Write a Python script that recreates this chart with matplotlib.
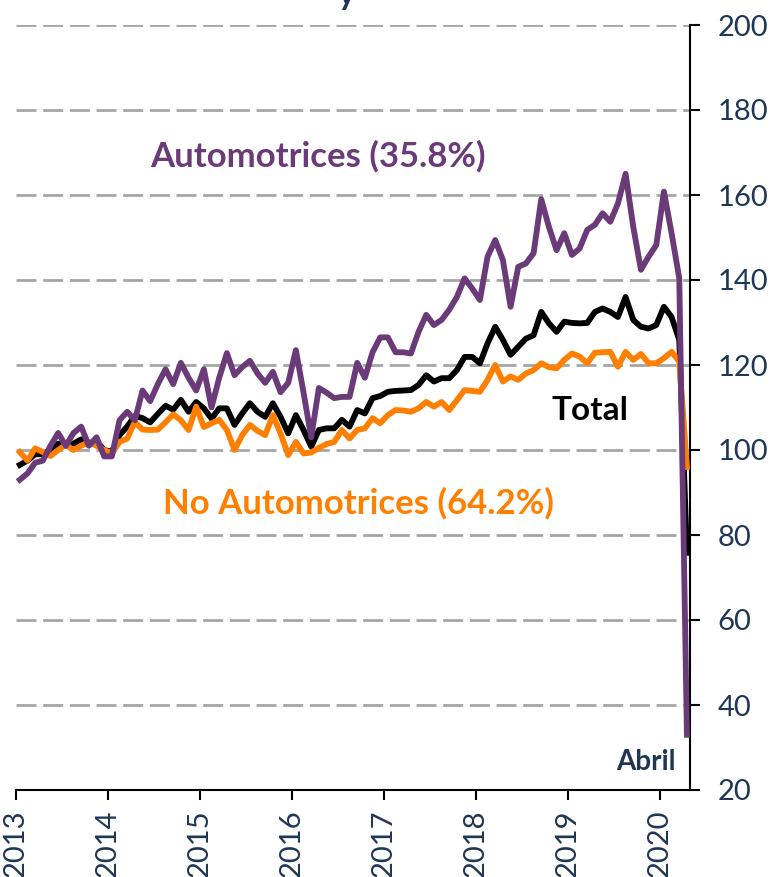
import numpy as np
import matplotlib.pyplot as plt

# Monthly index, Jan 2013 - Apr 2020
automotrices = [93, 94.5, 97, 97.5, 101, 104, 101, 104, 105.5, 101, 103, 98.5,
                98.5, 107, 109, 107, 114, 111.5, 115.5, 119, 115.5, 120.5, 117, 114,
                119, 110, 117, 122.8, 117.6, 119.5, 121, 118, 115.8, 118.4, 113.6, 115.8,
                123.5, 113.5, 103, 114.6, 113.5, 112.2, 112.5, 112.5, 120.5, 117, 123, 126.5,
                126.5, 123, 123, 122.7, 127.8, 131.8, 129.4, 130.6, 133, 136, 140.4, 138,
                135.3, 145.5, 149.4, 144.7, 133.7, 143.1, 143.9, 146.3, 159, 152.5, 147, 151,
                145.9, 147.4, 151.8, 153, 155.7, 153.7, 158, 165, 152.5, 142.4, 145.5, 148.2,
                160.8, 151, 140.4, 33]
total = [96.5, 97.5, 99, 99, 100, 101.5, 101, 101.5, 102.5, 101.5, 102, 100,
         99.6, 103.5, 105.5, 108, 107.5, 106.5, 108.5, 110.4, 109.5, 111.8, 109, 111.3,
         109.8, 107.4, 109.8, 109.8, 105.9, 108.6, 111, 109, 107.8, 111, 107.8, 103.9,
         108.2, 104.7, 100.8, 104.7, 105.1, 105.1, 107.1, 105.5, 109.4, 108.6, 112.2, 112.7,
         113.7, 113.9, 114, 114.1, 115.3, 117.6, 116.1, 116.9, 116.9, 118.8, 121.9, 121.9,
         120.4, 125.1, 129, 125.9, 122.4, 124.3, 126.2, 127, 132.5, 129.8, 127.8, 130.2,
         129.9, 129.8, 129.9, 132.5, 133.3, 132.5, 131.3, 136, 130.6, 129, 128.6, 129.4,
         133.7, 131.3, 125.9, 75.8]
no_automotrices = [99.5, 97.5, 100.4, 99.5, 98.6, 100, 101.2, 100, 101, 101.9, 101, 100,
                   99.2, 101.9, 102.7, 106.6, 104.8, 104.7, 104.8, 106.5, 108.4, 107, 104.7, 110.2,
                   105.4, 106.3, 107.1, 104.7, 100, 103.5, 105.9, 104.5, 103.5, 108.2, 103.9, 98.8,
                   101.9, 99.2, 99.4, 100.5, 101.4, 101.9, 104.7, 102.7, 104.7, 105.1, 107.5, 106.3,
                   108.2, 109.4, 109.3, 109, 109.8, 111.3, 110.2, 111.3, 109.4, 111.7, 114.1, 113.9,
                   113.7, 116.5, 120, 116.1, 117.3, 116.5, 118, 118.8, 120.4, 119.5, 119.2, 121.2,
                   122.7, 122, 120.4, 122.9, 123, 123.1, 119.6, 123.1, 121.2, 122.6, 120.4, 120.4,
                   121.6, 123.1, 120.8, 96]
years = ['2013', '2014', '2015', '2016', '2017', '2018', '2019', '2020']

navy = '#1F3654'
purple = '#6B3A78'
orange = '#FF7F00'
font = 'Lato'

fig = plt.figure(figsize=(7.71, 8.77), dpi=100)
ax = fig.add_axes([16/771, 1 - 790/877, (690 - 16)/771, (790 - 25)/877])

x = np.arange(len(total))
ax.plot(x, total, color='black', lw=4.2, zorder=3)
ax.plot(x, no_automotrices, color=orange, lw=4.2, zorder=4)
ax.plot(x, automotrices, color=purple, lw=4.2, zorder=5)

ax.set_xlim(-0.5, 87.4)
ax.set_ylim(20, 200)

ax.yaxis.tick_right()
ax.set_yticks(np.arange(20, 201, 20))
ax.tick_params(axis='y', direction='out', length=7, width=1.5, pad=13,
               labelsize=21, labelcolor=navy)
ax.set_xticks(np.arange(len(years)) * 12 - 0.5)
ax.set_xticklabels(years, rotation=90)
ax.tick_params(axis='x', direction='out', length=7, width=1.5, pad=7,
               labelsize=21, labelcolor=navy)
for lab in ax.get_xticklabels() + ax.get_yticklabels():
    lab.set_family(font)

for s in ['left', 'top']:
    ax.spines[s].set_visible(False)
for s in ['right', 'bottom']:
    ax.spines[s].set_linewidth(1.5)

for v in range(40, 201, 20):
    ax.axhline(v, color='#A6A6A6', lw=2, ls=(0, (7.2, 2.4)), zorder=1)

ax.text(38.9, 169, 'Automotrices (35.8%)', color=purple, fontsize=25,
        fontweight='bold', family=font, ha='center', va='center')
ax.text(74.3, 109.4, 'Total', color='black', fontsize=24,
        fontweight='bold', family=font, ha='center', va='center')
ax.text(44.2, 87.5, 'No Automotrices (64.2%)', color=orange, fontsize=25,
        fontweight='bold', family=font, ha='center', va='center')
ax.text(81.6, 26.6, 'Abril', color=navy, fontsize=20,
        fontweight='bold', family=font, ha='center', va='center')

# title cut off by the image edge
fig.text(0.45, 0.9943, 'y', color=navy, fontsize=24, fontweight='bold',
         family=font, ha='center', va='baseline')

fig.savefig('out.png', dpi=100)
